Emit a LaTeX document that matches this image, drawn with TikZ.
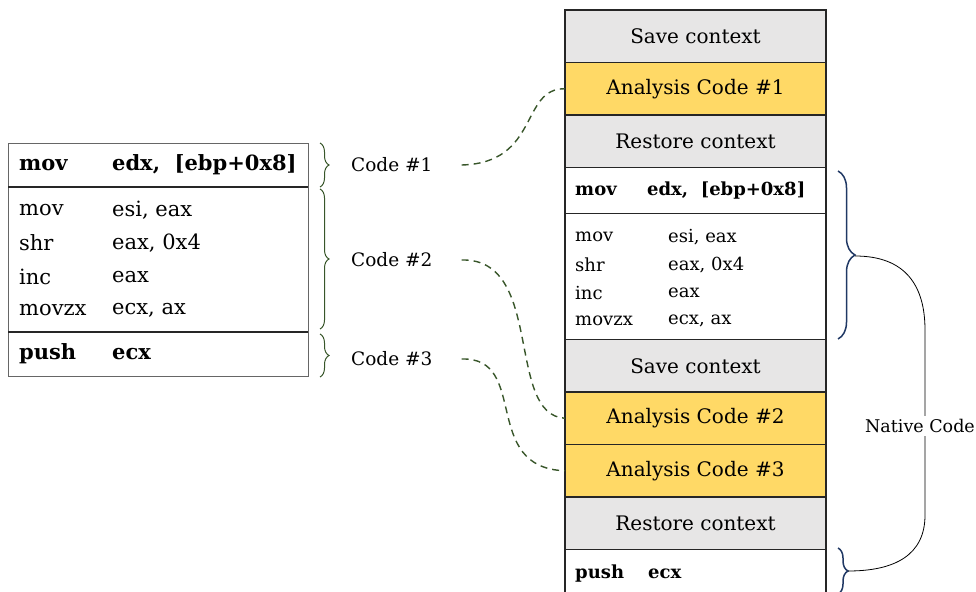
\documentclass[tikz,border=0pt]{standalone}
\usepackage{fontspec}
\setmainfont{DejaVu Serif}
\usetikzlibrary{positioning,decorations.pathreplacing}
\definecolor{HookGray}{HTML}{E7E6E6}
\definecolor{HookYellow}{HTML}{FFD966}
\definecolor{HookGreen}{HTML}{38562A}
\definecolor{HookBlue}{HTML}{203864}
\definecolor{HookDark}{HTML}{262626}
\tikzset{stackbox/.style={draw=HookDark, line width=1.5pt, outer sep=0pt, minimum width=261pt, minimum height=52.5pt, font=\fontsize{20}{23}\selectfont}, ctxbox/.style={stackbox, fill=HookGray}, anabox/.style={stackbox, fill=HookYellow}, codebox/.style={stackbox, fill=white}, leftbox/.style={draw=black!60, line width=0.8pt, outer sep=0pt, minimum width=300pt, anchor=north west}, sepline/.style={draw=HookDark, line width=1.5pt}, lcode/.style={anchor=west, inner sep=0pt, font=\fontsize{21}{24}\selectfont}, rcode/.style={anchor=west, inner sep=0pt, font=\fontsize{18}{21}\selectfont}, codelabel/.style={inner sep=2pt, font=\fontsize{18.5}{21}\selectfont}, greenbrace/.style={decorate, decoration={brace, amplitude=9pt}, draw=HookGreen, line width=1pt}, bluebrace/.style={decorate, decoration={brace, amplitude=#1}, draw=HookBlue, line width=1.5pt}, hookline/.style={draw=HookGreen, line width=1.4pt, dash pattern=on 7pt off 5pt}}

\begin{document}
\begin{tikzpicture}[x=1pt,y=-1pt]
\clip (0,0) rectangle (976,591);
% original code block
\node[leftbox, minimum height=44pt] (lhead) at (8,143) {};
\node[leftbox, minimum height=145pt] (lbody) at (8,187) {};
\node[leftbox, minimum height=44pt] (lpush) at (8,332) {};
\draw[sepline] (lhead.south west) -- (lhead.south east);
\draw[sepline] (lpush.north west) -- (lpush.north east);
\node[lcode] (lmov) at (19,165) {\bfseries mov};
\node[lcode] (ledx) at (112,165) {\bfseries edx,~~[ebp+0x8]};
\foreach \op/\arg/\y in {mov/{esi, eax}/210, shr/{eax, 0x4}/243, inc/eax/277, movzx/{ecx, ax}/310}{
  \node[lcode] at (19,\y) {\op};
  \node[lcode] at (112,\y) {\arg};
}
\node[lcode] (lpsh) at (19,354) {\bfseries push};
\node[lcode] (lecx) at (112,354) {\bfseries ecx};
% braces and labels
\draw[greenbrace] (320,143) -- (320,187);
\draw[greenbrace] (320,189) -- (320,329);
\draw[greenbrace] (320,334) -- (320,377);
\node[codelabel, anchor=west] (code1) at (349,165) {Code \#1};
\node[codelabel, anchor=west] (code2) at (349,260) {Code \#2};
\node[codelabel, anchor=west] (code3) at (349,359) {Code \#3};
% instrumented code
\node[ctxbox, anchor=north west] (save1) at (565,10) {Save context};
\node[anabox, below=0pt of save1] (ana1) {Analysis Code \#1};
\node[ctxbox, below=0pt of ana1] (rest1) {Restore context};
\node[codebox, below=0pt of rest1, minimum height=46pt] (rhead) {};
\node[codebox, below=0pt of rhead, minimum height=126pt] (rbody) {};
\node[ctxbox, below=0pt of rbody] (save2) {Save context};
\node[anabox, below=0pt of save2] (ana2) {Analysis Code \#2};
\node[anabox, below=0pt of ana2] (ana3) {Analysis Code \#3};
\node[ctxbox, below=0pt of ana3] (rest2) {Restore context};
\node[codebox, below=0pt of rest2, minimum height=60pt] (rpush) {};
\node[rcode] (rmov) at (575,191) {\bfseries mov};
\node[rcode] (redx) at (647,191) {\bfseries edx,~~[ebp+0x8]};
\foreach \op/\arg/\y in {mov/{esi, eax}/237, shr/{eax, 0x4}/265, inc/eax/293, movzx/{ecx, ax}/321}{
  \node[rcode] at (575,\y) {\op};
  \node[rcode] at (668,\y) {\arg};
}
\node[rcode] (rpsh) at (575,574) {\bfseries push};
\node[rcode] (recx) at (648,574) {\bfseries ecx};
% native code brace
\draw[bluebrace=17pt] (838,171) -- (838,339);
\draw[bluebrace=10pt] (838,548) -- (838,594);
\coordinate (nattop) at (855,256);
\coordinate (natbot) at (848,571);
\draw[black, line width=0.8pt] (nattop) .. controls (905,256) and (925,285) .. (925,330) -- (925,515) .. controls (925,555) and (895,571) .. (natbot);
\node[codelabel, fill=white, inner sep=3pt, font=\fontsize{17.5}{20}\selectfont] (native) at (920,426) {Native Code};
% hooks
\draw[hookline] ([xshift=27pt]code1.east) .. controls (540,163) and (520,88) .. (ana1.west);
\draw[hookline] ([xshift=27pt]code2.east) .. controls (545,258) and (505,415) .. (ana2.west);
\draw[hookline] ([xshift=27pt]code3.east) .. controls (530,357) and (480,468) .. (ana3.west);
\end{tikzpicture}
\end{document}
